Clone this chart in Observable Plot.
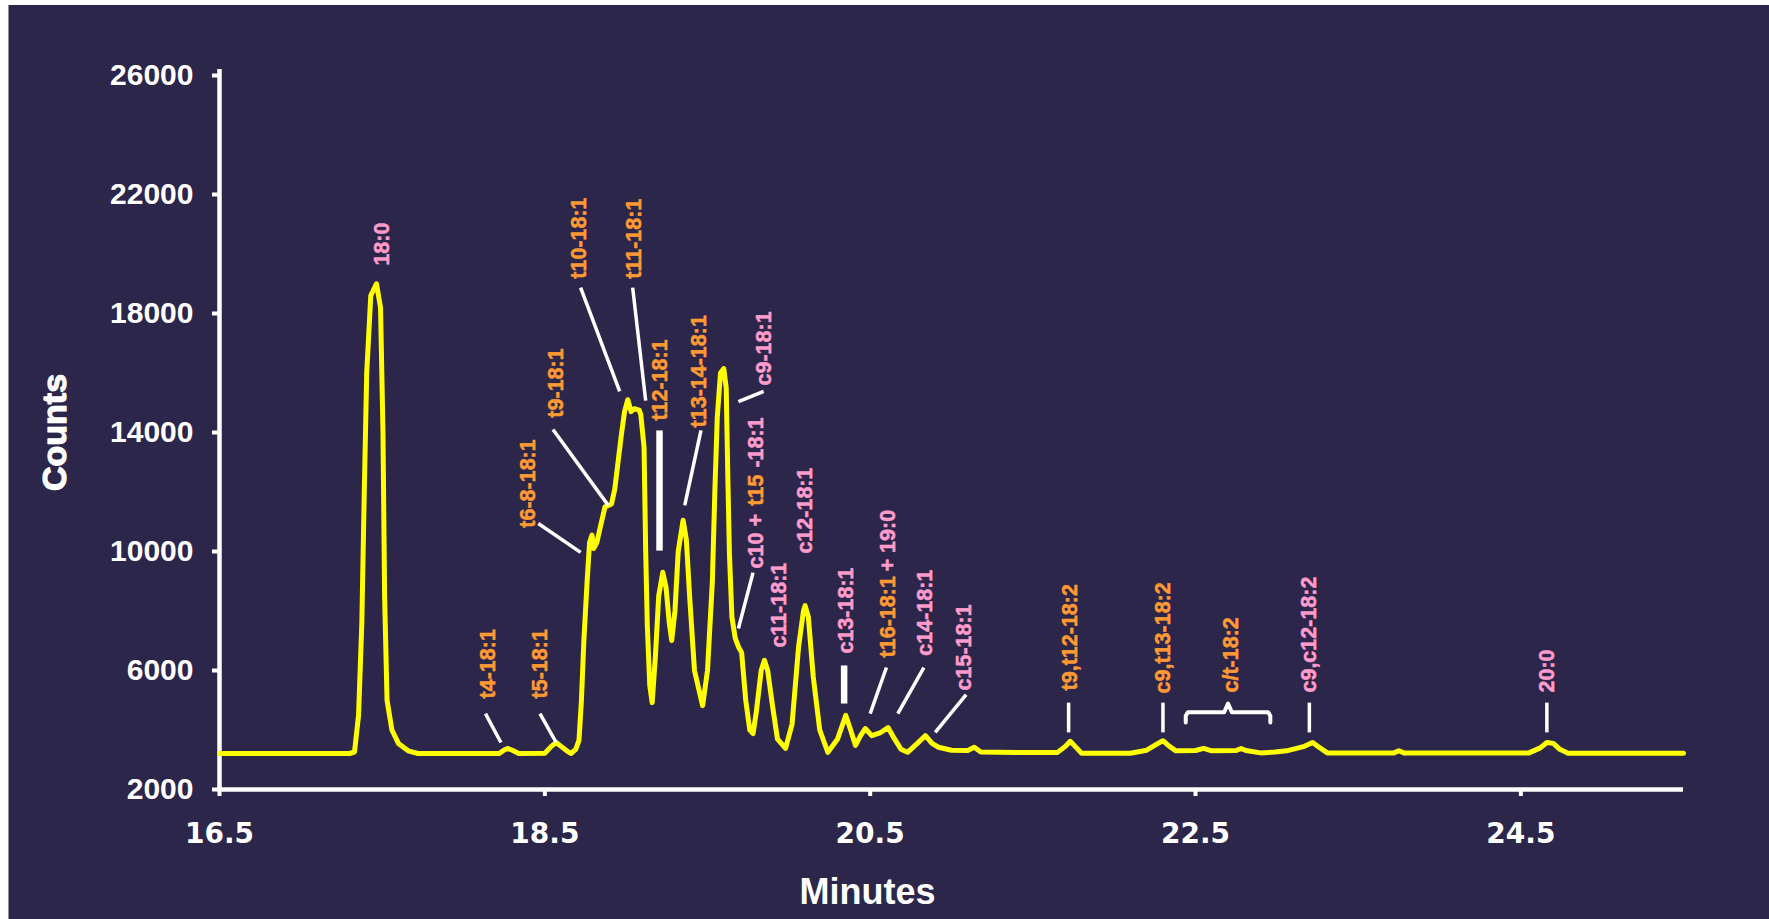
<!DOCTYPE html>
<html>
<head>
<meta charset="utf-8">
<script src="https://cdn.jsdelivr.net/npm/d3@7"></script>
<script src="https://cdn.jsdelivr.net/npm/@observablehq/plot@0.6"></script>
<style>
  html, body { margin: 0; padding: 0; background: #ffffff; }
  #wrap { position: absolute; left: 9px; top: 5px; width: 1760px; height: 914px; background: #2d264b; box-shadow: -1px 0 0 #8a8a9a; }
  #wrap svg { display: block; }
</style>
</head>
<body>
<div id="wrap"></div>
<script>
// ---------------- data ----------------
const minutes = [16.50,17.30,17.33,17.355,17.375,17.39,17.405,17.43,17.465,17.49,17.505,17.515,17.53,17.56,17.60,17.66,17.72,
  18.22,18.25,18.27,18.30,18.34,18.50,18.54,18.57,18.60,18.635,18.66,18.69,18.71,18.725,18.74,18.76,18.775,18.79,18.80,
  18.82,18.84,18.87,18.91,18.93,18.95,18.97,18.99,19.01,19.03,19.05,19.08,19.09,19.11,19.12,19.13,19.145,19.16,
  19.18,19.20,19.225,19.245,19.265,19.28,19.30,19.32,19.35,19.37,19.39,19.42,19.47,19.50,19.53,19.545,19.56,19.58,19.60,
  19.615,19.625,19.635,19.65,19.67,19.69,19.71,19.735,19.76,19.78,19.80,19.83,19.85,19.87,19.90,19.93,19.98,
  20.02,20.06,20.09,20.10,20.12,20.15,20.19,20.24,20.30,20.35,20.38,20.41,20.44,20.47,20.51,20.56,20.61,20.65,20.69,20.73,
  20.79,20.84,20.88,20.92,21.00,21.10,21.14,21.18,21.40,21.65,21.70,21.73,21.76,21.80,22.10,22.20,22.27,22.30,22.34,22.38,
  22.50,22.55,22.60,22.75,22.78,22.81,22.90,22.99,23.06,23.17,23.22,23.26,23.31,23.72,23.75,23.78,24.55,24.62,24.66,24.70,24.74,24.79,25.50];
const counts = [3210,3210,3260,4500,7600,12000,16000,18600,19000,18200,14000,8500,5000,4000,3550,3300,3210,
  3210,3330,3380,3320,3210,3220,3450,3580,3450,3300,3210,3350,3650,5000,7000,9000,10300,10550,10100,
  10300,10800,11500,11600,12100,13000,13900,14700,15100,14700,14800,14750,14600,13500,10000,7500,5500,4920,
  6500,8500,9300,8800,7600,7010,8000,10000,11050,10400,8500,6000,4820,6000,9000,12000,14500,16000,16150,
  15500,12500,9900,7800,7100,6800,6600,5000,4000,3880,4600,6000,6340,6000,4800,3700,3380,
  4200,6800,8000,8180,7800,5800,4000,3250,3700,4490,4000,3480,3800,4050,3810,3900,4080,3700,3350,3250,
  3550,3810,3550,3420,3320,3310,3420,3260,3240,3240,3450,3620,3450,3220,3220,3320,3550,3640,3450,3300,
  3310,3380,3300,3310,3380,3310,3230,3260,3300,3450,3580,3420,3230,3230,3300,3230,3230,3400,3580,3550,3350,3220,3220];

const xTicks = [16.5, 18.5, 20.5, 22.5, 24.5];
const yTicks = [2000, 6000, 10000, 14000, 18000, 22000, 26000];

// peak labels (text, retention time, count where the text starts, isomer kind)
const labelText  = ["18:0","t4-18:1","t5-18:1","t6-8-18:1","t9-18:1","t10-18:1","t11-18:1","t12-18:1","t13-14-18:1","c9-18:1",
  "c10 +","t15","-18:1","c11-18:1","c12-18:1","c13-18:1","t16-18:1","+ 19:0","c14-18:1","c15-18:1",
  "t9,t12-18:2","c9,t13-18:2","c/t-18:2","c9,c12-18:2","20:0"];
const labelMin   = [17.50,18.15,18.47,18.40,18.57,18.71,19.05,19.21,19.45,19.85,
  19.80,19.80,19.80,19.94,20.10,20.35,20.61,20.61,20.84,21.08,
  21.73,22.30,22.72,23.20,24.66];
const labelCount = [19610,5060,5060,10800,14500,19170,19170,14400,14170,15580,
  9430,11540,12820,6770,9930,6570,6440,9330,6500,5330,
  5330,5230,5260,5260,5260];
const labelKind  = ["cis","trans","trans","trans","trans","trans","trans","trans","trans","cis",
  "cis","trans","cis","cis","cis","cis","trans","cis","cis","cis",
  "trans","trans","trans","cis","cis"];

// leader lines from label to peak
const leaderX1 = [18.135,18.47,18.46,18.55,18.72,19.04,19.205,19.46,19.845,19.78,20.34,20.60,20.83,21.09,21.72,22.30,23.20,24.66];
const leaderY1 = [4550,4550,10940,14100,18870,18870,14070,14070,15380,9290,6170,6100,6100,5190,4920,4920,4920,4920];
const leaderX2 = [18.23,18.57,18.72,18.89,18.96,19.12,19.205,19.36,19.69,19.69,20.34,20.50,20.67,20.90,21.72,22.30,23.20,24.66];
const leaderY2 = [3580,3580,9970,11550,15380,15070,10030,11550,15040,7410,4890,4550,4550,3920,3920,3920,3920,3920];
const leaderWeight = ["thin","thin","thin","thin","thin","thin","thick","thin","thin","thin","thick","thin","thin","thin","thin","thin","thin","thin"];

// brace spanning the c/t-18:2 group
const braceFrom = 22.44, braceTo = 22.96, braceTip = 4890, braceBar = 4600, braceFoot = 4250;

// ---------------- styles ----------------
const YELLOW = "#ffff00", ORANGE = "#ff9a33", PINK = "#ff9ccc", WHITE = "#ffffff";

function hasFont(name) {
  const c = document.createElement("canvas").getContext("2d");
  const s = "abcdefghijklmnopqrstuvwxyz0123456789";
  c.font = "40px monospace";
  const a = c.measureText(s).width;
  c.font = `40px '${name}', monospace`;
  return Math.abs(c.measureText(s).width - a) > 0.5;
}
const narrow = hasFont("Liberation Sans Narrow");
const labelFont = narrow ? "'Liberation Sans Narrow', 'Liberation Sans', sans-serif" : "'Liberation Sans', Arial, sans-serif";
const labelSize = narrow ? 26 : 21.5;
const countsFont = labelFont;
const countsSize = narrow ? 40 : 32;

// ---------------- build ----------------
const curve = minutes.map((m, i) => ({m, c: counts[i]}));
const labels = labelText.map((t, i) => ({t, x: labelMin[i], y: labelCount[i], kind: labelKind[i]}));
const leaders = leaderX1.map((x1, i) => ({x1, y1: leaderY1[i], x2: leaderX2[i], y2: leaderY2[i], w: leaderWeight[i]}));
const mid = (braceFrom + braceTo) / 2, nib = (braceTo - braceFrom) * 0.045;
const brace = [
  [braceFrom, braceFoot], [braceFrom, braceBar - 120], [braceFrom + nib * 0.6, braceBar],
  [mid - nib, braceBar], [mid, braceTip], [mid + nib, braceBar],
  [braceTo - nib * 0.6, braceBar], [braceTo, braceBar - 120], [braceTo, braceFoot]
];

const labelOpts = {
  x: "x", y: "y", text: "t", rotate: -90, textAnchor: "start", lineAnchor: "middle",
  fontFamily: labelFont, fontSize: labelSize, fontWeight: "bold", strokeWidth: 0.5
};

const chart = Plot.plot({
  width: 1760,
  height: 914,
  marginLeft: 210,
  marginRight: 86,
  marginTop: 70,
  marginBottom: 130,
  x: {domain: [16.5, 25.5]},
  y: {domain: [2000, 26000]},
  style: {background: "transparent", color: WHITE, fontFamily: "'Liberation Sans', Arial, sans-serif", fontWeight: "bold"},
  marks: [
    Plot.axisY({ticks: yTicks, tickSize: 7, tickPadding: 19, tickFormat: d => String(d), label: null,
      stroke: WHITE, strokeWidth: 4, fill: WHITE, fontSize: 30, fontWeight: "bold",
      fontFamily: "'Liberation Sans', Arial, sans-serif"}),
    Plot.axisX({ticks: xTicks, tickSize: 7, tickPadding: 27, tickFormat: d => d.toFixed(1), label: null,
      stroke: WHITE, strokeWidth: 4, fill: WHITE, fontSize: 28, fontWeight: "bold",
      fontFamily: "'DejaVu Sans', Verdana, sans-serif"}),
    Plot.ruleX([16.5], {stroke: WHITE, strokeWidth: 4.5, insetTop: -6, insetBottom: -2}),
    Plot.ruleY([2000], {stroke: WHITE, strokeWidth: 4.5, insetLeft: -2}),
    Plot.line(curve, {x: "m", y: "c", stroke: YELLOW, strokeWidth: 5, strokeLinejoin: "round", strokeLinecap: "round"}),
    Plot.link(leaders.filter(d => d.w === "thin"), {x1: "x1", y1: "y1", x2: "x2", y2: "y2", stroke: WHITE, strokeWidth: 3.5}),
    Plot.link(leaders.filter(d => d.w === "thick"), {x1: "x1", y1: "y1", x2: "x2", y2: "y2", stroke: WHITE, strokeWidth: 6.5}),
    Plot.line(brace, {x: d => d[0], y: d => d[1], stroke: WHITE, strokeWidth: 4, strokeLinejoin: "round", strokeLinecap: "round"}),
    Plot.text(labels.filter(d => d.kind === "trans"), {...labelOpts, fill: ORANGE, stroke: ORANGE}),
    Plot.text(labels.filter(d => d.kind === "cis"), {...labelOpts, fill: PINK, stroke: PINK}),
    Plot.text(["Minutes"], {frameAnchor: "bottom", dx: -84, dy: 103, lineAnchor: "middle", fill: WHITE,
      fontSize: 36, fontWeight: "bold", fontFamily: "'Liberation Sans', Arial, sans-serif"}),
    Plot.text(["Counts"], {frameAnchor: "left", dx: -164, rotate: -90, textAnchor: "middle", lineAnchor: "middle", fill: WHITE,
      stroke: WHITE, strokeWidth: 1.2, fontSize: countsSize + 2, fontWeight: "bold", fontFamily: countsFont})
  ]
});
document.getElementById("wrap").appendChild(chart);
</script>
</body>
</html>
